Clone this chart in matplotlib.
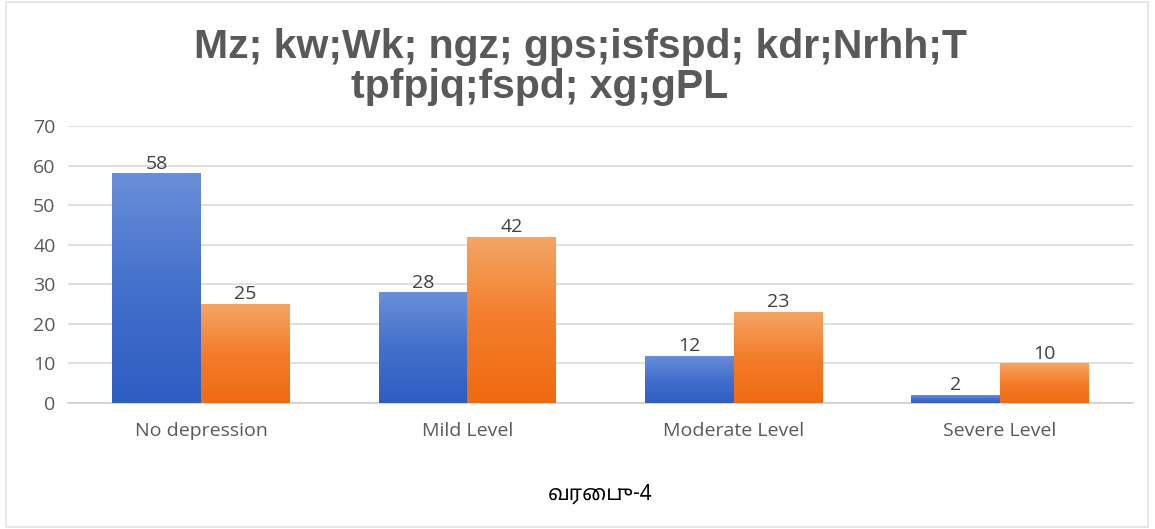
import numpy as np
import matplotlib
matplotlib.use("Agg")
import matplotlib.pyplot as plt
from matplotlib import font_manager
from matplotlib.colors import LinearSegmentedColormap
from matplotlib.patches import Rectangle

# ---- data ----
categories = ["No depression", "Mild Level", "Moderate Level", "Severe Level"]
series_a = [58, 28, 12, 2]
series_b = [25, 42, 23, 10]
y_ticks = [0, 10, 20, 30, 40, 50, 60, 70]
title_lines = ["Mz; kw;Wk; ngz; gps;isfspd; kdr;Nrhh;T", "tpfpjq;fspd; xg;gPL"]
caption = "வரைபு-4"


def find_font_with(char, preferred=()):
    """Return the family name of an installed font covering `char`."""
    try:
        from fontTools.ttLib import TTFont
    except Exception:
        return None
    names = {}
    for f in font_manager.fontManager.ttflist:
        names.setdefault(f.name, f.fname)
    order = [n for n in preferred if n in names] + sorted(names)
    for name in order:
        path = names[name]
        try:
            tt = TTFont(path, fontNumber=0, lazy=True)
            cmap = tt.getBestCmap() or {}
            if ord(char) in cmap:
                return name
        except Exception:
            continue
    return None


installed = {f.name for f in font_manager.fontManager.ttflist}
title_family = "Liberation Sans Narrow" if "Liberation Sans Narrow" in installed else "Liberation Sans"
label_family = "Open Sans" if "Open Sans" in installed else "DejaVu Sans"
tamil_family = find_font_with("வ", preferred=("Noto Sans Tamil", "Lohit Tamil", "Noto Serif Tamil"))
caption_families = [tamil_family, "DejaVu Sans"] if tamil_family else ["DejaVu Sans"]

W, H = 1155, 529
fig = plt.figure(figsize=(W / 100, H / 100), dpi=100)
fig.patch.set_facecolor("white")

# outer frame
fig.add_artist(Rectangle((6 / W, 2 / H), (1148 - 6) / W, (527 - 2) / H,
                         transform=fig.transFigure, fill=False,
                         edgecolor="#e3e3e3", linewidth=1.2))

ax = fig.add_axes([68 / W, 126 / H, (1133 - 68) / W, 277 / H])

x = np.arange(len(categories))
width = 0.333

blue_cmap = LinearSegmentedColormap.from_list("blue_grad", ["#2e5dc2", "#4470cc", "#6a8fd8"])
orange_cmap = LinearSegmentedColormap.from_list("orange_grad", ["#f06a12", "#f37d2a", "#f4a566"])
grad = np.linspace(0, 1, 256).reshape(-1, 1)


def gradient_bars(xpos, heights, cmap):
    bars = ax.bar(xpos, heights, width, color="none", edgecolor="none", zorder=3)
    for bar in bars:
        bx, by = bar.get_x(), bar.get_y()
        bw, bh = bar.get_width(), bar.get_height()
        im = ax.imshow(grad, cmap=cmap, origin="lower", aspect="auto",
                       extent=(bx, bx + bw, by, by + bh), zorder=3)
        im.set_clip_path(bar)
    return bars


bars_a = gradient_bars(x - width / 2, series_a, blue_cmap)
bars_b = gradient_bars(x + width / 2, series_b, orange_cmap)
ax.set_xlim(-0.5, len(categories) - 0.5)
ax.set_ylim(0, 70)

for bars, vals in ((bars_a, series_a), (bars_b, series_b)):
    for bar, v in zip(bars, vals):
        ax.annotate(f"{v}", (bar.get_x() + bar.get_width() / 2, v),
                    xytext=(0, 0.5), textcoords="offset points",
                    ha="center", va="bottom", fontsize=14,
                    color="#404040", family=label_family)

ax.set_yticks(y_ticks)
ax.grid(axis="y", color="#d9d9d9", linewidth=1.2, zorder=0)
ax.set_axisbelow(True)
for s in ("top", "right", "left"):
    ax.spines[s].set_visible(False)
ax.spines["bottom"].set_color("#d0d0d0")
ax.spines["bottom"].set_linewidth(1.2)
ax.set_xticks(x)
ax.set_xticklabels(categories)
ax.tick_params(axis="both", length=0, colors="#595959", labelsize=14)
ax.tick_params(axis="x", pad=14)
ax.tick_params(axis="y", pad=9)
for lbl in ax.get_xticklabels() + ax.get_yticklabels():
    lbl.set_family(label_family)

fig.text(580 / W, 1 - 58 / H, title_lines[0], ha="center", va="baseline",
         fontsize=29.5, fontweight="bold", color="#595959", family=title_family)
fig.text(540 / W, 1 - 98 / H, title_lines[1], ha="center", va="baseline",
         fontsize=29.5, fontweight="bold", color="#595959", family=title_family)

fig.text(600 / W, 1 - 494 / H, caption, ha="center", va="center",
         fontsize=15, color="black", family=caption_families)

fig.savefig("out.png", dpi=100, facecolor="white")
